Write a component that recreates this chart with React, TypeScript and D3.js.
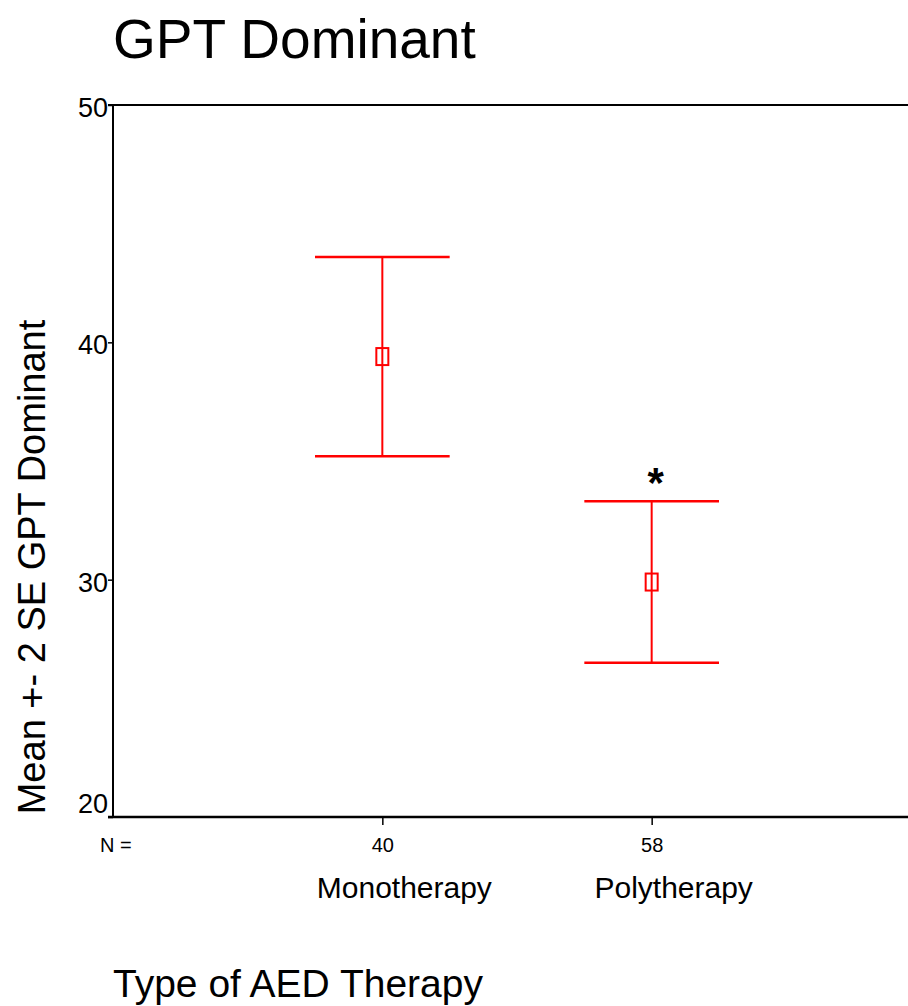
import React, { useEffect, useRef } from 'react';
import * as d3 from 'd3';

// values (mean +- 2 SE)
const categories = ['Monotherapy', 'Polytherapy'];
const counts = [40, 58];
const means = [39.4, 29.9];
const upper = [43.6, 33.3];
const lower = [35.2, 26.5];
const significant = [false, true];
const yTicks = [20, 30, 40, 50];

const W = 908;
const H = 1006;
const FONT = '"Liberation Sans", Arial, Helvetica, sans-serif';
const RED = '#ff0000';

const App = () => {
    const ref = useRef(null);

    useEffect(() => {
        const svg = d3.select(ref.current);
        svg.selectAll('*').remove();

        const left = 113, top = 105, bottom = 817;
        const y = d3.scaleLinear().domain([20, 50]).range([bottom, top]);
        const x = d3.scalePoint().domain(categories).range([left, 921]).padding(1);

        // title
        svg.append('text')
            .attr('x', left).attr('y', 58)
            .style('font-family', FONT).style('font-size', '55px')
            .text('GPT Dominant');

        // frame lines top / bottom, reaching past the axis like ticks
        svg.append('line')
            .attr('x1', left - 5).attr('x2', W)
            .attr('y1', y(50)).attr('y2', y(50))
            .attr('stroke', '#000').attr('stroke-width', 2);
        svg.append('line')
            .attr('x1', left - 5).attr('x2', W)
            .attr('y1', y(20)).attr('y2', y(20))
            .attr('stroke', '#000').attr('stroke-width', 2.5);
        svg.append('line')
            .attr('x1', left).attr('x2', left)
            .attr('y1', y(50)).attr('y2', y(20))
            .attr('stroke', '#000').attr('stroke-width', 2);

        // y axis
        const yAxis = svg.append('g')
            .attr('transform', `translate(${left},0)`)
            .call(d3.axisLeft(y).tickValues(yTicks).tickSize(5).tickSizeOuter(0));
        yAxis.select('.domain').remove();
        yAxis.selectAll('line').attr('stroke', '#000').attr('stroke-width', 1.5);
        yAxis.selectAll('text')
            .attr('x', -5)
            .attr('dy', d => (d === 20 ? '-0.15em' : '0.42em'))
            .style('font-family', FONT).style('font-size', '27px').attr('fill', '#000');

        // x axis: N counts under ticks
        const xAxis = svg.append('g')
            .attr('transform', `translate(0,${bottom})`)
            .call(d3.axisBottom(x).tickSize(8).tickSizeOuter(0).tickPadding(13)
                .tickFormat((d, i) => String(counts[i])));
        xAxis.select('.domain').remove();
        xAxis.selectAll('line').attr('stroke', '#000').attr('stroke-width', 1.5);
        xAxis.selectAll('text')
            .style('font-family', FONT).style('font-size', '20px').attr('fill', '#000');

        svg.append('text')
            .attr('x', 100).attr('y', 852)
            .style('font-family', FONT).style('font-size', '20px')
            .text('N =');

        // category names
        svg.append('g').selectAll('text')
            .data(categories)
            .enter().append('text')
            .attr('x', d => x(d) + 22).attr('y', 898)
            .attr('text-anchor', 'middle')
            .style('font-family', FONT).style('font-size', '30px')
            .text(d => d);

        // axis titles
        svg.append('text')
            .attr('transform', 'translate(45,567) rotate(-90)')
            .attr('text-anchor', 'middle')
            .style('font-family', FONT).style('font-size', '38px')
            .text('Mean +- 2 SE GPT Dominant');
        svg.append('text')
            .attr('x', left).attr('y', 997)
            .style('font-family', FONT).style('font-size', '39px')
            .text('Type of AED Therapy');

        // error bars
        const half = x.step() / 4;
        const bars = svg.append('g').selectAll('g.bar')
            .data(categories)
            .enter().append('g')
            .attr('class', 'bar');

        bars.append('line')
            .attr('x1', d => x(d)).attr('x2', d => x(d))
            .attr('y1', (d, i) => y(upper[i])).attr('y2', (d, i) => y(lower[i]))
            .attr('stroke', RED).attr('stroke-width', 2);
        bars.append('line')
            .attr('x1', d => x(d) - half).attr('x2', d => x(d) + half)
            .attr('y1', (d, i) => y(upper[i])).attr('y2', (d, i) => y(upper[i]))
            .attr('stroke', RED).attr('stroke-width', 2.5);
        bars.append('line')
            .attr('x1', d => x(d) - half).attr('x2', d => x(d) + half)
            .attr('y1', (d, i) => y(lower[i])).attr('y2', (d, i) => y(lower[i]))
            .attr('stroke', RED).attr('stroke-width', 2.5);
        bars.append('rect')
            .attr('x', d => x(d) - 6).attr('y', (d, i) => y(means[i]) - 8.5)
            .attr('width', 12).attr('height', 17)
            .attr('fill', 'none').attr('stroke', RED).attr('stroke-width', 2);

        // significance marker
        bars.filter((d, i) => significant[i])
            .append('text')
            .attr('x', d => x(d) + 4)
            .attr('y', d => y(upper[categories.indexOf(d)]) - 4)
            .attr('text-anchor', 'middle')
            .style('font-family', FONT).style('font-size', '42px').style('font-weight', 'bold')
            .text('*');
    }, []);

    return (
        <svg ref={ref} width={W} height={H}
             style={{ position: 'absolute', left: 0, top: 0, background: '#fff' }} />
    );
};

export default App;
